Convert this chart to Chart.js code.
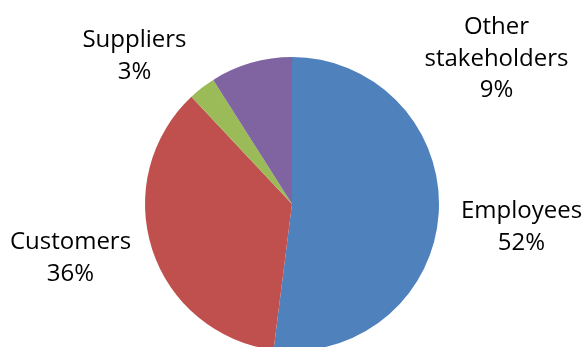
<!DOCTYPE html>
<html>
<head>
<meta charset="utf-8">
<script src="https://cdn.jsdelivr.net/npm/chart.js@4"></script>
<style>
    html, body { margin: 0; padding: 0; background: #fff; overflow: hidden; }
    #wrap { width: 586px; height: 360px; }
</style>
</head>
<body>
<div id="wrap"><canvas id="stakeChart" width="586" height="360"></canvas></div>
<script>
const categories = ['Employees', 'Customers', 'Suppliers', 'Other stakeholders'];
const shares = [52, 36, 3, 9];
const sliceColors = ['#4F81BD', '#C0504D', '#9BBB59', '#8064A2'];
// label lines per slice (name may wrap like the original layout)
const labelLines = [['Employees'], ['Customers'], ['Suppliers'], ['Other', 'stakeholders']];

// where each label block sits, relative to the pie centre (x = text centre, y = first baseline)
const labelAnchors = [
    { dx: 229.5, dy: 14 },
    { dx: -221.5, dy: 45 },
    { dx: -157.5, dy: -157 },
    { dx: 204.5, dy: -170 }
];

const outsideLabels = {
    id: 'outsideLabels',
    afterDatasetsDraw(chart) {
        const ctx = chart.ctx;
        const meta = chart.getDatasetMeta(0);
        const values = chart.data.datasets[0].data;
        ctx.save();
        ctx.font = '24px "Open Sans"';
        ctx.fillStyle = '#000';
        ctx.textAlign = 'center';
        ctx.textBaseline = 'alphabetic';
        meta.data.forEach((arc, i) => {
            const a = labelAnchors[i];
            const x = arc.x + a.dx;
            let y = arc.y + a.dy;
            const lines = labelLines[i].concat([values[i] + '%']);
            lines.forEach(line => {
                ctx.fillText(line, x, y);
                y += 31.5;
            });
        });
        ctx.restore();
    }
};

new Chart(document.getElementById('stakeChart'), {
    type: 'pie',
    data: {
        labels: categories,
        datasets: [{
            data: shares,
            backgroundColor: sliceColors,
            borderWidth: 0
        }]
    },
    options: {
        responsive: false,
        animation: false,
        layout: { padding: { left: 145, right: 147, top: 57, bottom: 9 } },
        plugins: {
            legend: { display: false },
            tooltip: { enabled: false }
        }
    },
    plugins: [outsideLabels]
});
</script>
</body>
</html>
